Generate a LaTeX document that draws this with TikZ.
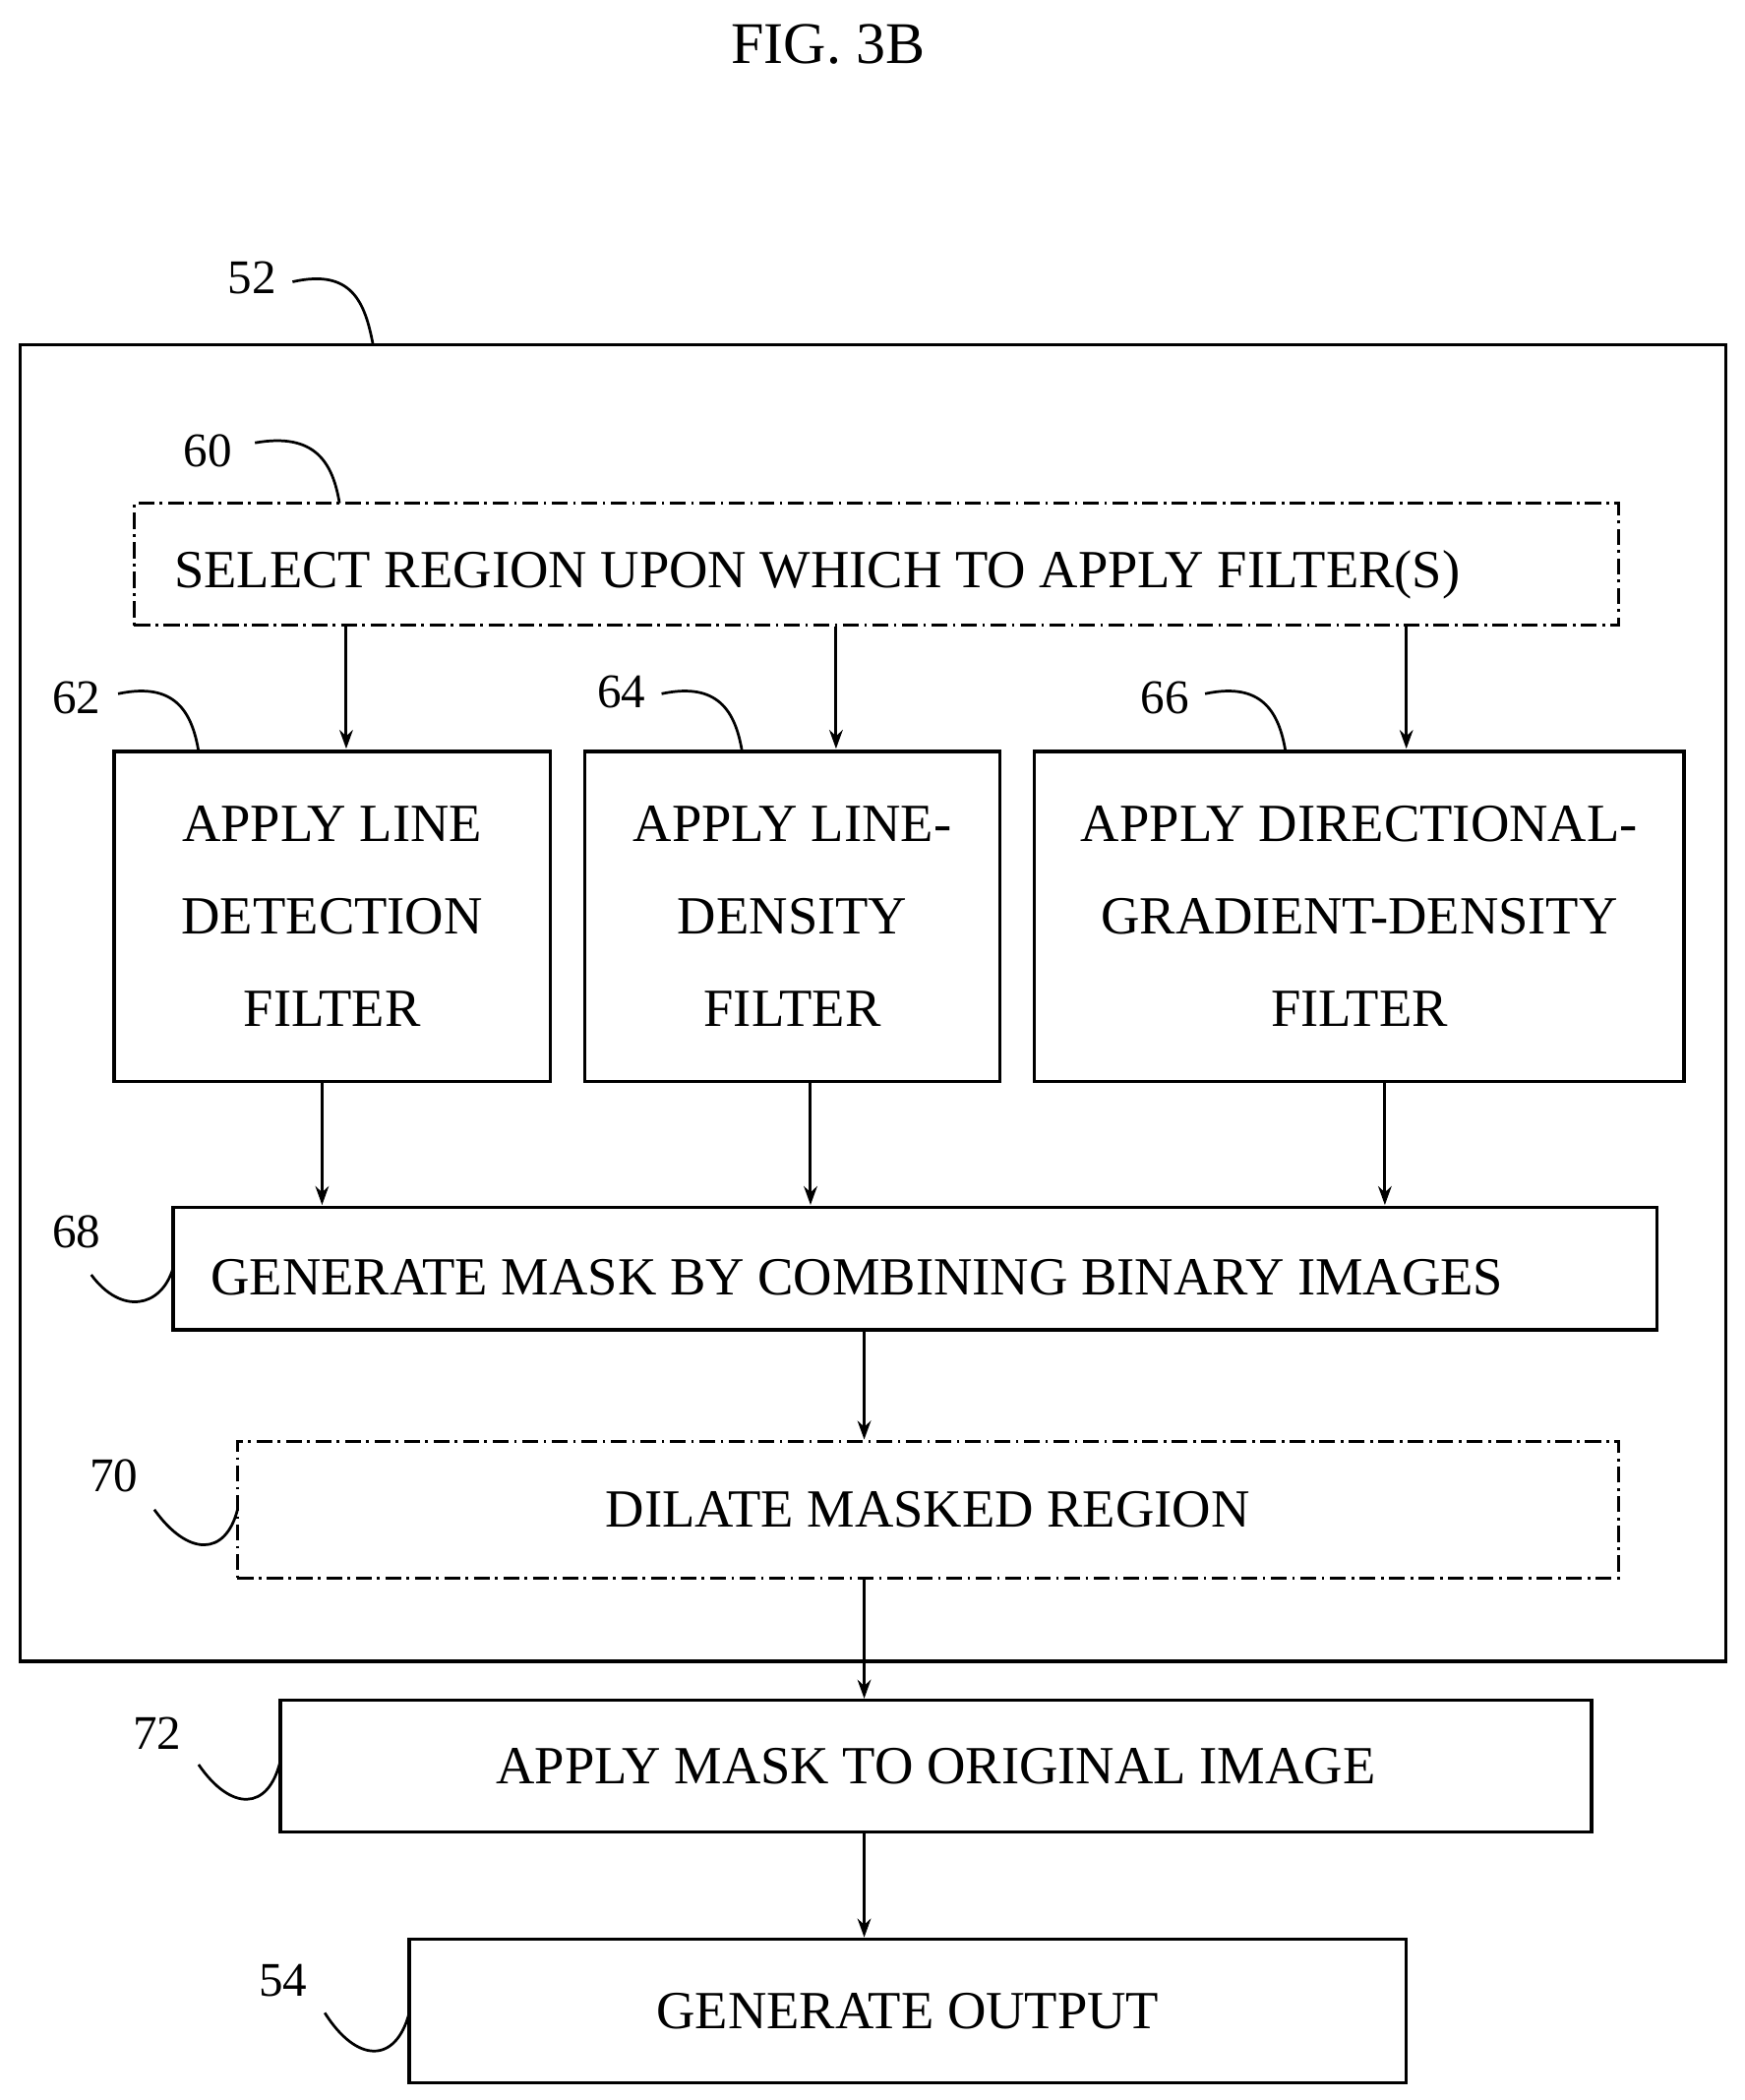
\documentclass[tikz,border=0pt]{standalone}
\usepackage{fontspec}
\setmainfont{Liberation Serif}
\usetikzlibrary{arrows.meta}
\begin{document}
\begin{tikzpicture}[x=0.5pt,y=-0.5pt,
  box/.style={draw,line width=1.2pt,inner sep=0pt,align=center,font=\fontsize{20}{34.5}\selectfont},
  dd/.style={box,dash pattern=on 6pt off 2pt on 1pt off 2pt},
  arr/.style={-{Stealth[length=7pt,width=5pt]},line width=1.1pt},
  lbl/.style={font=\fontsize{18}{20}\selectfont},
  txt/.style={font=\fontsize{20}{22}\selectfont},
  sq/.style={line width=1pt}]
\useasboundingbox (0,0) rectangle (1300,1565);
\node[font=\fontsize{22}{24}\selectfont] (fig) at (617,33) {FIG. 3B};
% outer
\node[box,minimum width=635.5pt,minimum height=490.5pt] (n52) at (650.5,747.5) {};
\node[lbl] (l52) at (188,207) {52};
\draw[sq] (218,210) .. controls (262,200) and (272,225) .. (278,257);
% 60
\node[dd,minimum width=553pt,minimum height=45.5pt] (n60) at (653,420.5) {};
\node[txt] at (609,428) {SELECT REGION UPON WHICH TO APPLY FILTER(S)};
\node[lbl] (l60) at (155,336) {60};
\draw[sq] (190,330) .. controls (235,322) and (248,345) .. (253,375);
% filters
\node[box,minimum width=162.5pt,minimum height=123pt] (n62) at (247.5,683) {APPLY LINE\\DETECTION\\FILTER};
\node[box,minimum width=154.5pt,minimum height=123pt] (n64) at (590.5,683) {APPLY LINE-\\DENSITY\\FILTER};
\node[box,minimum width=242pt,minimum height=123pt] (n66) at (1013,683) {APPLY DIRECTIONAL-\\GRADIENT-DENSITY\\FILTER};
\node[lbl] at (57,520) {62};
\draw[sq] (88,517) .. controls (130,508) and (143,530) .. (148,560);
\node[lbl] at (463,516) {64};
\draw[sq] (493,517) .. controls (535,508) and (548,530) .. (553,560);
\node[lbl] at (868,520) {66};
\draw[sq] (898,517) .. controls (940,508) and (953,530) .. (958,560);
\coordinate (a1) at (258,558);\coordinate (a2) at (623,558);\coordinate (a3) at (1048,558);
\draw[arr] (n60.south -| a1) -- (a1);
\draw[arr] (n60.south -| a2) -- (a2);
\draw[arr] (n60.south -| a3) -- (a3);
% 68
\node[box,minimum width=553pt,minimum height=45.5pt] (n68) at (682,945.5) {};
\node[txt,anchor=west] at (150,952) {GENERATE MASK BY COMBINING BINARY IMAGES};
\node[lbl] at (57,918) {68};
\draw[sq] (68,950) .. controls (90,980) and (120,975) .. (129,945);
\coordinate (b1) at (240,898);\coordinate (b2) at (604,898);\coordinate (b3) at (1032,898);
\draw[arr] (n62.south -| b1) -- (b1);
\draw[arr] (n64.south -| b2) -- (b2);
\draw[arr] (n66.south -| b3) -- (b3);
% 70
\node[dd,minimum width=514.5pt,minimum height=51pt] (n70) at (691.5,1125) {DILATE MASKED REGION};
\node[lbl] at (85,1100) {70};
\draw[sq] (115,1125) .. controls (140,1160) and (168,1160) .. (177,1125);
\coordinate (c1) at (644,1072);
\draw[arr] (n68.south -| c1) -- (n70.north -| c1);
% 72
\node[box,minimum width=488.5pt,minimum height=49pt] (n72) at (697.5,1316) {APPLY MASK TO ORIGINAL IMAGE};
\node[lbl] at (117,1292) {72};
\draw[sq] (148,1315) .. controls (172,1350) and (200,1350) .. (209,1312);
\draw[arr] (n70.south -| c1) -- (n72.north -| c1);
% 54
\node[box,minimum width=371.5pt,minimum height=53.5pt] (n54) at (676.5,1498.5) {GENERATE OUTPUT};
\node[lbl] at (211,1476) {54};
\draw[sq] (242,1500) .. controls (266,1538) and (295,1538) .. (305,1500);
\draw[arr] (n72.south -| c1) -- (n54.north -| c1);
\end{tikzpicture}
\end{document}
